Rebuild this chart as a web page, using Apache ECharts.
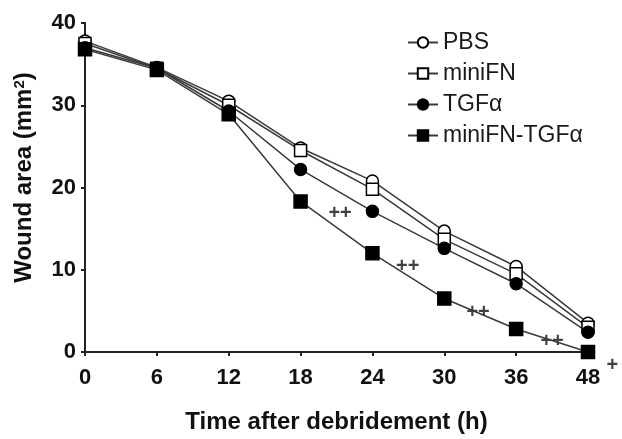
<!DOCTYPE html>
<html>
<head>
<meta charset="utf-8">
<script src="https://cdn.jsdelivr.net/npm/echarts@6/dist/echarts.min.js"></script>
<style>
  html, body { margin: 0; padding: 0; background: #fff; }
  #chart { width: 622px; height: 439px; }
</style>
</head>
<body>
<div id="chart"></div>
<script>
// time points (h) - drawn equally spaced like the original
const timeLabels = ['0', '6', '12', '18', '24', '30', '36', '48'];
const yTicks = [0, 10, 20, 30, 40];

// wound area (mm2)
const pbs = [37.8, 34.6, 30.5, 24.8, 20.8, 14.7, 10.4, 3.5];
const miniFN = [37.5, 34.5, 30.0, 24.5, 19.8, 13.7, 9.5, 3.0];
const tgfa = [37.0, 34.5, 29.3, 22.2, 17.1, 12.6, 8.3, 2.4];
const miniFNTgfa = [36.8, 34.3, 28.9, 18.3, 12.0, 6.5, 2.8, 0];

// significance marks: [x position (index), y value, text]
const marks = [
  [3.55, 16.8, '++'],
  [4.49, 10.4, '++'],
  [5.47, 4.8, '++'],
  [6.5, 1.3, '++'],
  [7.34, -1.7, '+']
];

const FONT = 'Liberation Sans, Arial';
const withIdx = (arr) => arr.map((v, i) => [i, v]);

const lineStyle = { color: '#3a3a3a', width: 1.5 };

function makeSeries(name, data, symbol, filled, size) {
  return {
    name: name,
    type: 'line',
    data: withIdx(data),
    symbol: symbol,
    symbolSize: size,
    showAllSymbol: true,
    lineStyle: lineStyle,
    itemStyle: {
      color: filled ? '#000' : '#fff',
      borderColor: '#000',
      borderWidth: 1.5
    },
    emphasis: { disabled: true },
    animation: false
  };
}

const chart = echarts.init(document.getElementById('chart'));
chart.setOption({
  backgroundColor: '#fff',
  animation: false,
  grid: { left: 85, right: 34, top: 23, bottom: 85, containLabel: false },
  legend: {
    orient: 'vertical',
    left: 402,
    top: 26,
    itemWidth: 30,
    itemHeight: 13,
    itemGap: 8,
    textStyle: { fontFamily: FONT, fontSize: 23, color: '#1a1a1a', padding: [0, 0, 0, 0] },
    data: ['PBS', 'miniFN', 'TGFα', 'miniFN-TGFα']
  },
  xAxis: {
    type: 'value',
    min: 0,
    max: timeLabels.length - 1,
    interval: 1,
    splitLine: { show: false },
    axisLine: { lineStyle: { color: '#222', width: 2 } },
    axisTick: { length: 4, lineStyle: { color: '#222', width: 2 } },
    axisLabel: {
      formatter: (v) => timeLabels[v] || '',
      fontFamily: FONT,
      fontWeight: 'bold',
      fontSize: 22,
      color: '#111',
      margin: 15
    },
    name: 'Time after debridement (h)',
    nameLocation: 'middle',
    nameGap: 58,
    nameTextStyle: { fontFamily: FONT, fontWeight: 'bold', fontSize: 24, color: '#111' }
  },
  yAxis: {
    type: 'value',
    min: yTicks[0],
    max: yTicks[yTicks.length - 1],
    interval: 10,
    splitLine: { show: false },
    axisLine: { show: true, lineStyle: { color: '#222', width: 2 } },
    axisTick: { show: true, length: 4, lineStyle: { color: '#222', width: 2 } },
    axisLabel: {
      fontFamily: FONT,
      fontWeight: 'bold',
      fontSize: 22,
      color: '#111',
      margin: 9
    },
    name: 'Wound area (mm{sup|2})',
    nameLocation: 'middle',
    nameGap: 49,
    nameTextStyle: {
      fontFamily: FONT,
      fontWeight: 'bold',
      fontSize: 24,
      color: '#111',
      padding: [0, 0, 0, 20],
      rich: {
        sup: { fontFamily: FONT, fontWeight: 'bold', fontSize: 15, color: '#111', verticalAlign: 'top', lineHeight: 24 }
      }
    }
  },
  series: [
    makeSeries('PBS', pbs, 'circle', false, 12),
    makeSeries('miniFN', miniFN, 'rect', false, 12),
    makeSeries('TGFα', tgfa, 'circle', true, 12),
    makeSeries('miniFN-TGFα', miniFNTgfa, 'rect', true, 13),
    {
      name: 'marks',
      type: 'scatter',
      clip: false,
      silent: true,
      symbolSize: 0,
      data: marks.map((m) => ({ value: [m[0], m[1]], label: { formatter: m[2] } })),
      label: {
        show: true,
        position: 'inside',
        fontFamily: FONT,
        fontWeight: 'bold',
        fontSize: 20,
        color: '#111'
      },
      animation: false
    }
  ]
});
</script>
</body>
</html>
